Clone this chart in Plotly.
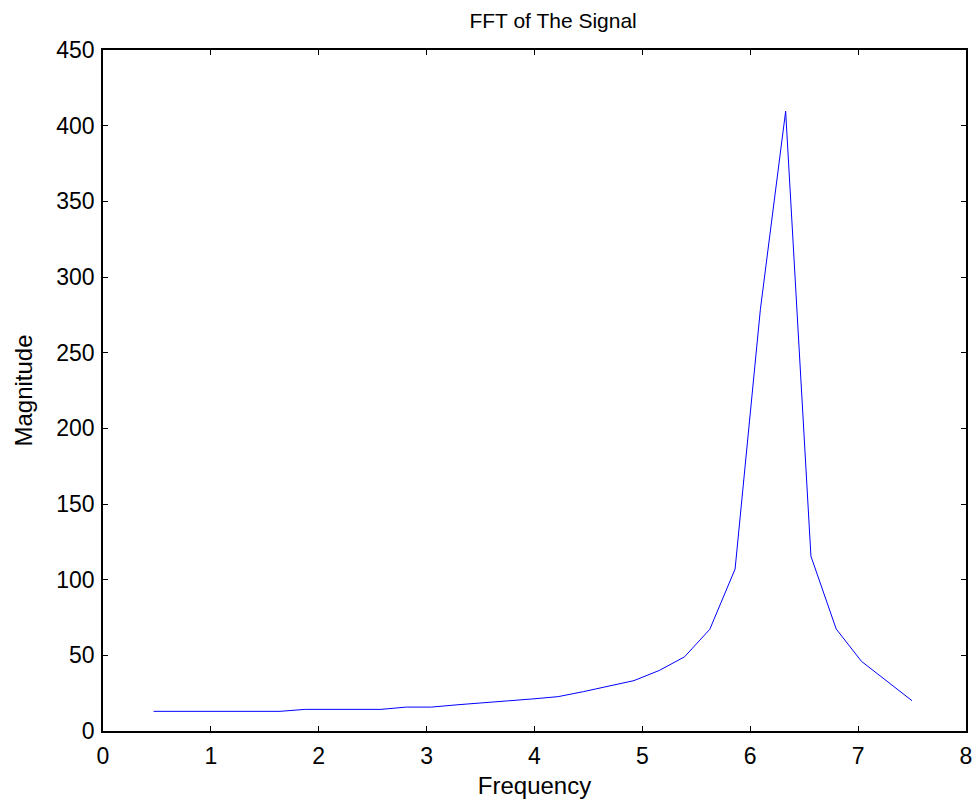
import numpy as np
import plotly.graph_objects as go

# Frequency bins (k * 7.5/32, k = 2..32) and magnitudes
freq = [k * 7.5 / 32 for k in range(2, 33)]
magnitude = [13.0, 13.0, 13.0, 13.0, 13.0, 13.0,
             14.3, 14.3, 14.3, 14.3,
             15.8, 15.8,
             17.3, 18.8, 19.9, 21.2, 22.7, 26.0, 29.5, 33.3, 40.0, 49.0,
             67.2, 107.0, 278.5, 409.5, 115.5, 67.4, 46.0, 33.0, 20.0]

x_ticks = [0, 1, 2, 3, 4, 5, 6, 7, 8]
y_ticks = [0, 50, 100, 150, 200, 250, 300, 350, 400, 450]

font = "Liberation Sans, Arial, Helvetica, sans-serif"

fig = go.Figure()
fig.add_trace(go.Scatter(x=freq, y=magnitude, mode="lines",
                         line=dict(color="#0000FF", width=1),
                         showlegend=False))

axis_common = dict(showline=True, linecolor="black", linewidth=1.5,
                   mirror="ticks", ticks="inside", ticklen=5, tickwidth=1,
                   tickcolor="black", showgrid=False, zeroline=False,
                   automargin=False,
                   tickfont=dict(family=font, size=23, color="black"))

fig.update_layout(
    width=979, height=805,
    margin=dict(l=103, r=13, t=50, b=74),
    paper_bgcolor="white", plot_bgcolor="white",
    title=dict(text="FFT of The Signal", x=0.565, xanchor="center",
               y=0.974, yanchor="middle",
               font=dict(family=font, size=21, color="black")),
    xaxis=dict(range=[0, 8], tickvals=x_ticks, ticklabelstandoff=4,
               title=dict(text="Frequency", standoff=9,
                          font=dict(family=font, size=24, color="black")),
               **axis_common),
    yaxis=dict(range=[0, 450], tickvals=y_ticks, ticklabelstandoff=2,
               title=dict(text="Magnitude", standoff=17,
                          font=dict(family=font, size=24, color="black")),
               **axis_common),
)

fig.write_html("out.html")
